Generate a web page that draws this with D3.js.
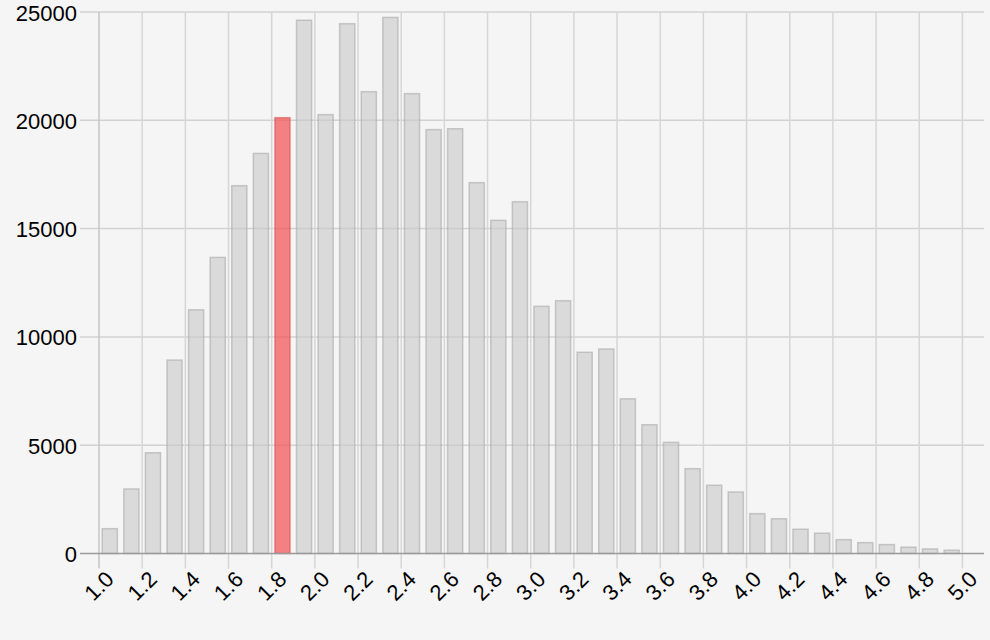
<!DOCTYPE html>
<html>
<head>
<meta charset="utf-8">
<script src="https://cdn.jsdelivr.net/npm/d3@7"></script>
<style>
  html, body { margin: 0; padding: 0; background: #f5f5f5; }
  svg { display: block; }
  text { font-family: "Liberation Sans", Arial, Helvetica, sans-serif; font-size: 22px; fill: #000; }
</style>
</head>
<body>
<svg width="990" height="640"></svg>
<script>
// bin starts (width 0.1) and counts
const bins = [1.0, 1.1, 1.2, 1.3, 1.4, 1.5, 1.6, 1.7, 1.8, 1.9,
  2.0, 2.1, 2.2, 2.3, 2.4, 2.5, 2.6, 2.7, 2.8, 2.9,
  3.0, 3.1, 3.2, 3.3, 3.4, 3.5, 3.6, 3.7, 3.8, 3.9,
  4.0, 4.1, 4.2, 4.3, 4.4, 4.5, 4.6, 4.7, 4.8, 4.9];
const counts = [1145, 2980, 4650, 8930, 11250, 13670, 16980, 18470, 20120, 24620,
  20260, 24460, 21320, 24750, 21230, 19570, 19610, 17120, 15380, 16240,
  11410, 11670, 9290, 9440, 7140, 5945, 5130, 3915, 3150, 2840,
  1840, 1605, 1120, 935, 640, 500, 410, 290, 210, 150];
const highlightBin = 1.8;
const xTicks = d3.range(0, 21).map(i => +(1 + i * 0.2).toFixed(1));
const yTicks = [0, 5000, 10000, 15000, 20000, 25000];

const svg = d3.select('svg');
const plotLeft = 99, plotRight = 984, plotTop = 12, plotBottom = 553.5;

const x = d3.scaleLinear().domain([1.0, 5.1]).range([plotLeft, plotRight]);
const y = d3.scaleLinear().domain([0, 25000]).range([plotBottom, plotTop]);

// horizontal grid
svg.append('g').selectAll('line')
  .data(yTicks.filter(d => d > 0))
  .join('line')
  .attr('x1', plotLeft - 19).attr('x2', plotRight)
  .attr('y1', d => y(d)).attr('y2', d => y(d))
  .attr('stroke', '#d2d2d2')
  .attr('stroke-width', 1.5);

// vertical grid + ticks
svg.append('g').selectAll('line')
  .data(xTicks)
  .join('line')
  .attr('x1', d => x(d)).attr('x2', d => x(d))
  .attr('y1', plotTop).attr('y2', plotBottom + 15)
  .attr('stroke', d => d === 1.0 ? '#c4c4c4' : '#d6d6d6')
  .attr('stroke-width', 1.5);

// bars
svg.append('g').selectAll('rect')
  .data(bins)
  .join('rect')
  .attr('x', d => x(d + 0.015))
  .attr('width', d => x(d + 0.085) - x(d + 0.015))
  .attr('y', (d, i) => y(counts[i]))
  .attr('height', (d, i) => y(0) - y(counts[i]))
  .attr('fill', d => d === highlightBin ? 'rgba(242,90,90,0.75)' : 'rgba(200,200,200,0.6)')
  .attr('stroke', d => d === highlightBin ? 'rgba(220,80,80,0.6)' : 'rgba(170,170,170,0.6)')
  .attr('stroke-width', 1.5);

// baseline
svg.append('line')
  .attr('x1', plotLeft - 19).attr('x2', plotRight)
  .attr('y1', y(0)).attr('y2', y(0))
  .attr('stroke', '#9a9a9a')
  .attr('stroke-width', 1.5);

// y labels
svg.append('g').selectAll('text')
  .data(yTicks)
  .join('text')
  .attr('x', plotLeft - 22)
  .attr('y', d => y(d) + 1)
  .attr('text-anchor', 'end')
  .attr('dominant-baseline', 'central')
  .text(d => d);

// x labels
svg.append('g').selectAll('text')
  .data(xTicks)
  .join('text')
  .attr('transform', d => `translate(${x(d)},586) rotate(-45)`)
  .attr('text-anchor', 'middle')
  .attr('dominant-baseline', 'central')
  .text(d => d.toFixed(1));
</script>
</body>
</html>
